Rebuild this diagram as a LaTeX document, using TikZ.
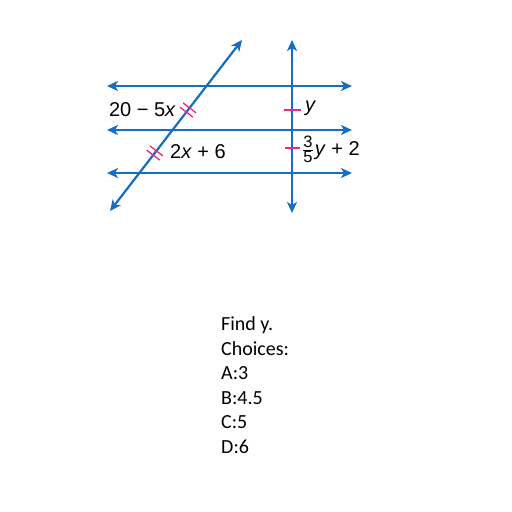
\documentclass[tikz,border=0pt]{standalone}
\usepackage{fontspec}
\newfontfamily\labfont{Liberation Sans}
\newfontfamily\qfont{Carlito}
\usetikzlibrary{arrows.meta,calc}
\definecolor{lineblue}{RGB}{22,110,190}
\definecolor{tickpink}{RGB}{232,40,140}
\tikzset{
  geoline/.style={lineblue,line width=2.2pt,{Stealth[length=11pt,width=10pt,inset=3pt]}-{Stealth[length=11pt,width=10pt,inset=3pt]}},
  tickmark/.style={tickpink,line width=1.3pt},
  lab/.style={inner sep=0pt,font=\labfont\fontsize{20}{22}\selectfont},
  qtext/.style={inner sep=0pt,anchor=base west,font=\qfont\fontsize{20}{24}\selectfont}
}
\newcommand{\fracdigit}[1]{\hbox{\labfont\fontsize{16.5}{16.5}\selectfont #1}}
\begin{document}
\begin{tikzpicture}[x=1pt,y=-1pt]
\useasboundingbox[fill=white] (0,0) rectangle (512,512);
% endpoints
\coordinate (h1l) at (107,86);  \coordinate (h1r) at (352,86);
\coordinate (h2l) at (107,130); \coordinate (h2r) at (352,130);
\coordinate (h3l) at (107,173); \coordinate (h3r) at (352,173);
\coordinate (vt) at (292,40);   \coordinate (vb) at (292,213);
\coordinate (tb) at (110,211);  \coordinate (tt) at (242,40);
\draw[geoline] (h1l) -- (h1r);
\draw[geoline] (h2l) -- (h2r);
\draw[geoline] (h3l) -- (h3r);
\draw[geoline] (vb) -- (vt);
\draw[geoline] (tb) -- (tt);
% double ticks on transversal
\coordinate (c1) at (188,110);
\coordinate (c2) at (154.8,153);
\foreach \c in {c1,c2}{
  \draw[tickmark] ($(\c)+(1.6,-2.1)+(-6.5,-5)$) -- ($(\c)+(1.6,-2.1)+(6.5,5)$);
  \draw[tickmark] ($(\c)+(-1.6,2.1)+(-6.5,-5)$) -- ($(\c)+(-1.6,2.1)+(6.5,5)$);
}
% single ticks on vertical line
\coordinate (v1l) at (284,110); \coordinate (v1r) at (301,110);
\coordinate (v2l) at (285,148); \coordinate (v2r) at (300,148);
\draw[tickmark] (v1l) -- (v1r);
\draw[tickmark] (v2l) -- (v2r);
% labels
\node[lab,anchor=east] (l1) at (176,110) {20 − 5\textit{x}};
\node[lab,anchor=west] (l2) at (170,152) {2\textit{x} + 6};
\node[lab,anchor=west] (l3) at (305,108) {\textit{y}};
\node[lab,anchor=west] (l4) at (302,149) {$\frac{\fracdigit{3}}{\fracdigit{5}}$\kern1pt\textit{y} + 2};
% question text
\node[qtext] (q1) at (221,330) {Find y.};
\node[qtext] (q2) at (221,355) {Choices:};
\node[qtext] (q3) at (221,379) {A:3};
\node[qtext] (q4) at (221,404) {B:4.5};
\node[qtext] (q5) at (221,428) {C:5};
\node[qtext] (q6) at (221,453) {D:6};
\end{tikzpicture}
\end{document}
